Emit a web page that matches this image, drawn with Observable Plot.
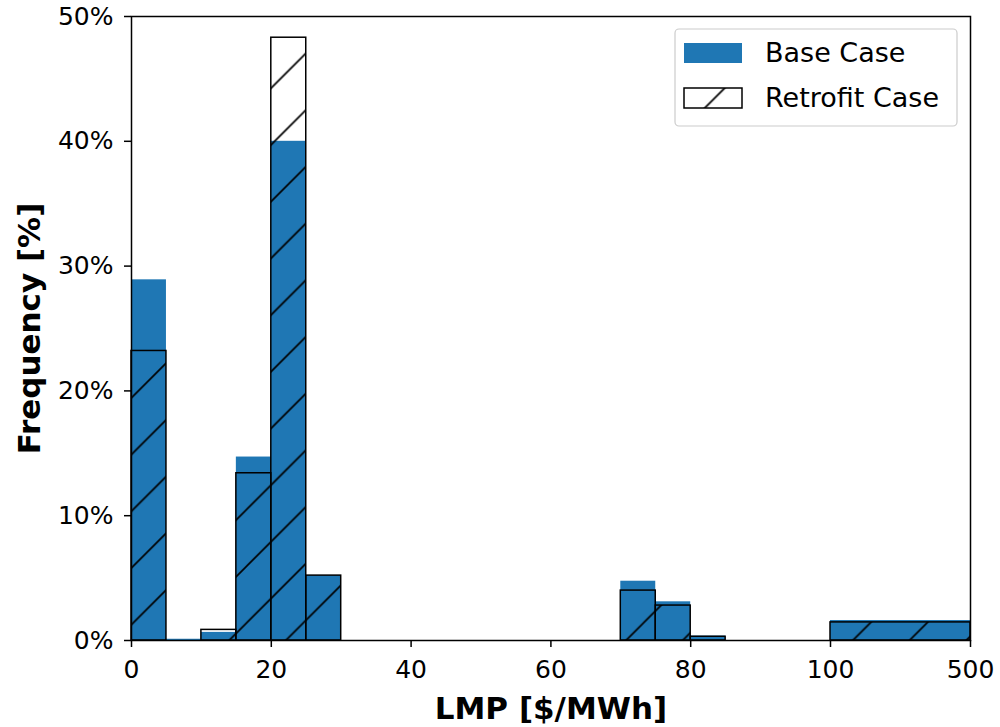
<!DOCTYPE html>
<html>
<head>
<meta charset="utf-8">
<script src="https://cdn.jsdelivr.net/npm/d3@7"></script>
<script src="https://cdn.jsdelivr.net/npm/@observablehq/plot@0.6"></script>
<style>
  html, body { margin: 0; padding: 0; background: white; }
  #chart { position: absolute; left: 0; top: 0; }
</style>
</head>
<body>
<div id="chart"></div>
<script>
// LMP bin edges ($/MWh)
const binLower = [0, 5, 10, 15, 20, 25, 30, 35, 40, 45, 50, 55, 60, 65, 70, 75, 80, 85, 90, 95, 100];
const binUpper = [5, 10, 15, 20, 25, 30, 35, 40, 45, 50, 55, 60, 65, 70, 75, 80, 85, 90, 95, 100, 500];
// Frequency [%]
const baseCase = [28.9, 0.1, 0.65, 14.7, 40.0, 5.2, 0, 0, 0, 0, 0, 0, 0, 0, 4.75, 3.1, 0.35, 0, 0, 0, 1.6];
const retrofitCase = [23.2, 0, 0.85, 13.4, 48.3, 5.2, 0, 0, 0, 0, 0, 0, 0, 0, 4.0, 2.8, 0.3, 0, 0, 0, 1.45];
const xTicks = [0, 20, 40, 60, 80, 100, 500];
const yTicks = [0, 10, 20, 30, 40, 50];
const seriesNames = ["Base Case", "Retrofit Case"];

const baseRows = binLower.map((lo, i) => ({x1: lo, x2: binUpper[i], y: baseCase[i]}));
const retroRows = binLower.map((lo, i) => ({x1: lo, x2: binUpper[i], y: retrofitCase[i]}));

const plot = Plot.plot({
  width: 1000,
  height: 727,
  marginLeft: 131,
  marginRight: 30,
  marginTop: 16,
  marginBottom: 87,
  style: {fontFamily: "DejaVu Sans", fontSize: "25px", color: "black", background: "white"},
  x: {type: "linear", domain: [0, 100, 500], range: [131, 830, 970]},
  y: {domain: [0, 50]},
  marks: [
    Plot.rectY(baseRows, {x1: "x1", x2: "x2", y: "y", fill: "#1f77b4", insetLeft: 0, insetRight: 0}),
    Plot.rectY(retroRows, {x1: "x1", x2: "x2", y: "y", fill: "url(#hatch)", stroke: "black", strokeWidth: 1.5, insetLeft: 0, insetRight: 0}),
    Plot.frame({stroke: "black", strokeWidth: 1.5}),
    Plot.axisX({ticks: xTicks, tickFormat: d => String(d), tickSize: 7, tickPadding: 13, strokeWidth: 1.5, fontSize: 25, label: null}),
    Plot.axisY({ticks: yTicks, tickFormat: d => d + "%", tickSize: 7, tickPadding: 11, strokeWidth: 1.5, fontSize: 25, label: null}),
    Plot.text(["LMP [$/MWh]"], {frameAnchor: "bottom", dy: 69, fontSize: 31, fontWeight: "bold", lineAnchor: "middle", textAnchor: "middle"}),
    Plot.text(["Frequency [%]"], {frameAnchor: "left", dx: -101, rotate: -90, fontSize: 31, fontWeight: "bold", lineAnchor: "middle", textAnchor: "middle"})
  ]
});

// hatch pattern ("/" hatch at 45 degrees, anchored to the figure)
const svg = d3.select(plot);
const H = 56.7, W = 56.7;
const defs = svg.insert("defs", ":first-child");
const pat = defs.append("pattern")
  .attr("id", "hatch")
  .attr("patternUnits", "userSpaceOnUse")
  .attr("x", 19)
  .attr("y", 0)
  .attr("width", W)
  .attr("height", H);
pat.append("path")
  .attr("d", `M0,${H}L${W},0M${-W/4},${H/4}L${W/4},${-H/4}M${3*W/4},${5*H/4}L${5*W/4},${3*H/4}`)
  .attr("stroke", "black")
  .attr("stroke-width", 1.7)
  .attr("fill", "none");

// legend
const lg = svg.append("g").attr("font-family", "DejaVu Sans").attr("font-size", 27).attr("text-anchor", "start");
lg.append("rect").attr("x", 675).attr("y", 29).attr("width", 282).attr("height", 97)
  .attr("rx", 4).attr("fill", "white").attr("fill-opacity", 0.8).attr("stroke", "#cccccc").attr("stroke-width", 1.2);
lg.append("rect").attr("x", 684).attr("y", 43).attr("width", 58).attr("height", 20).attr("fill", "#1f77b4");
lg.append("rect").attr("x", 684).attr("y", 88).attr("width", 58).attr("height", 20)
  .attr("fill", "url(#hatch)").attr("stroke", "black").attr("stroke-width", 1.5);
lg.append("text").attr("x", 765).attr("y", 53).attr("dy", "0.35em").attr("fill", "black").text(seriesNames[0]);
lg.append("text").attr("x", 765).attr("y", 98).attr("dy", "0.35em").attr("fill", "black").text(seriesNames[1]);

document.getElementById("chart").appendChild(plot);
</script>
</body>
</html>
